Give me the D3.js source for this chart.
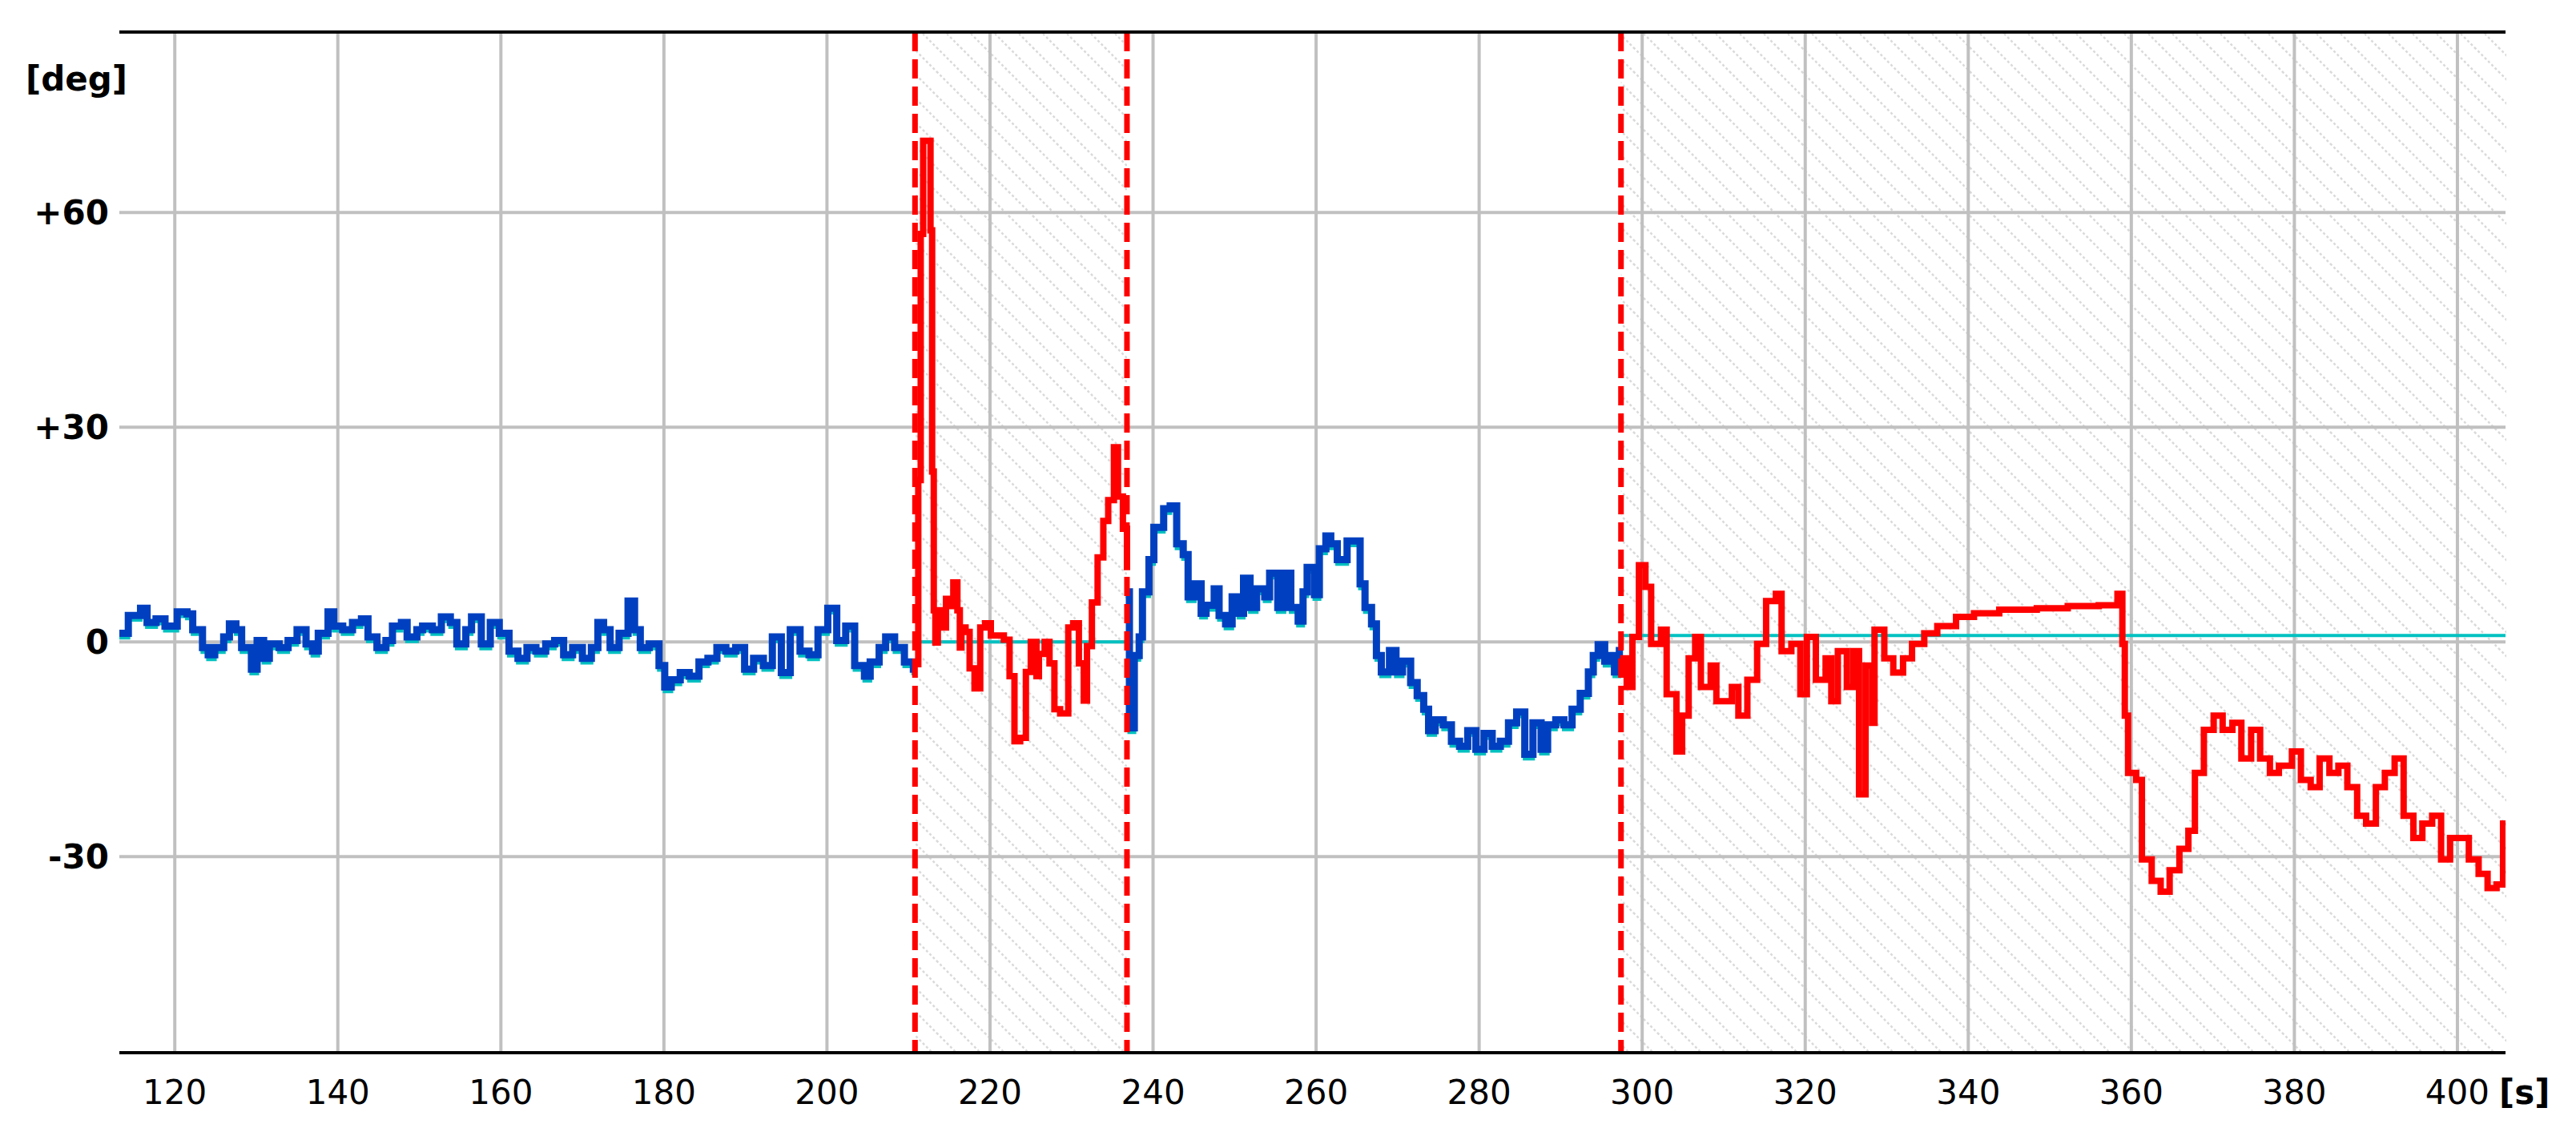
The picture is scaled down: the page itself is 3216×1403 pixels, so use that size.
<!DOCTYPE html>
<html><head><meta charset="utf-8">
<script src="https://cdn.jsdelivr.net/npm/d3@7"></script>
<style>body{margin:0;background:#fff}svg{display:block}</style>
</head><body>
<script>
// ---------- data ----------
const xTicks = [120,140,160,180,200,220,240,260,280,300,320,340,360,380,400];
const yTicks = [60,30,0,-30];
const yTickLabels = ["+60","+30","0","-30"];
const markers = [210.8, 236.8, 297.4];
const hatchRanges = [[210.8,236.8],[297.4,406]];

const blue1T = [113.2,114.3,115.8,116.6,117.7,118.8,120.3,121.5,122.2,123.4,124.1,124.9,126.0,126.7,127.5,128.2,129.4,130.1,130.9,131.6,132.8,133.9,135.0,136.1,136.9,137.6,138.8,139.5,140.6,141.8,142.9,143.7,144.8,145.9,146.7,147.8,148.5,149.7,150.4,151.6,152.7,153.8,154.6,155.7,156.4,157.6,158.7,159.8,161.0,162.1,163.2,164.3,165.5,166.6,167.7,168.8,170.0,171.1,171.9,172.6,173.4,174.5,175.6,176.4,177.1,178.2,179.4,180.1,180.9,182.0,183.1,184.3,185.4,186.5,187.6,188.8,189.9,191.0,192.2,193.3,194.4,195.5,196.7,197.8,198.9,200.1,201.2,202.3,203.4,204.6,205.3,206.4,207.2,208.3,209.5,210.6,210.8];
const blue1V = [1.2,3.7,4.7,2.7,3.2,2.2,4.2,3.9,1.7,-0.8,-1.8,-0.8,0.7,2.5,1.7,-0.8,-3.8,0.2,-2.3,-0.3,-0.8,0.2,1.7,-0.3,-1.3,1.2,4.2,2.2,1.7,2.7,3.2,0.7,-0.8,0.2,2.2,2.7,0.7,1.7,2.2,1.7,3.5,2.7,-0.3,1.7,3.5,-0.3,2.7,1.2,-1.3,-2.3,-0.8,-1.3,-0.3,0.2,-1.8,-0.8,-2.3,-0.8,2.7,1.7,-0.8,1.2,5.7,1.7,-0.8,-0.3,-3.3,-6.3,-5.3,-4.3,-4.8,-2.8,-2.3,-0.8,-1.3,-0.8,-3.8,-2.3,-3.3,0.7,-4.3,1.7,-1.3,-1.8,1.7,4.7,0.2,2.2,-3.3,-4.8,-2.8,-0.8,0.7,-0.8,-2.8,-3.8,-3.8];

const red1T = [210.8,211.2,211.5,211.8,212.7,212.9,213.1,213.3,213.6,214.1,214.6,215.0,215.5,216.0,216.3,216.5,217.0,217.5,218.1,218.8,219.4,220.1,220.7,221.7,222.4,223.0,223.7,224.4,225.0,225.7,226.0,226.7,227.3,227.9,228.6,229.6,230.2,230.9,231.5,231.9,232.5,233.2,233.9,234.5,235.2,235.7,236.3,236.8];
const red1V = [-3.1,22.6,57.0,70.0,57.5,23.8,4.4,-0.1,4.4,2.0,6.0,5.0,8.3,4.4,-0.8,2.0,1.4,-3.7,-6.5,2.0,2.6,0.9,0.9,0.3,-4.8,-13.9,-13.4,-4.2,0.0,-4.8,-1.7,0.0,-3.0,-9.4,-10.0,2.0,2.6,-3.0,-8.2,-0.6,5.5,11.8,16.9,19.8,27.2,20.3,15.8,10.0];

const blue2T = [236.8,237.1,237.7,238.3,238.7,239.5,240.1,241.3,242.1,242.9,243.7,244.3,245.1,245.9,246.5,247.5,248.1,248.9,249.7,250.5,251.1,251.9,252.7,253.7,254.3,255.3,256.1,256.9,257.8,258.4,258.9,259.8,260.4,261.2,261.8,262.6,263.8,264.8,265.4,266.0,266.8,267.4,268.0,269.0,269.8,270.6,271.6,272.4,273.2,273.8,274.6,275.6,276.6,277.6,278.6,279.6,280.6,281.6,282.6,283.6,284.6,285.6,286.6,287.6,288.4,289.4,290.4,291.4,292.4,293.4,294.0,294.6,295.4,296.0,296.6,297.2,297.4];
const blue2V = [7.0,-12.0,-1.9,0.7,7.0,11.5,16.0,18.6,19.0,13.7,12.2,6.3,8.1,4.0,5.1,7.4,3.7,2.5,6.3,4.0,8.9,4.8,7.4,6.3,9.6,4.8,9.6,4.8,2.9,7.0,10.4,6.6,13.0,14.8,13.7,11.5,14.1,14.1,8.1,4.8,2.5,-1.9,-4.2,-1.2,-4.2,-2.7,-5.7,-7.5,-9.4,-12.4,-10.9,-11.6,-13.9,-14.6,-12.4,-15.0,-12.8,-14.6,-13.9,-11.3,-9.8,-15.7,-11.3,-15.0,-11.6,-10.9,-11.6,-9.4,-7.2,-4.2,-1.9,-0.4,-2.7,-1.9,-4.2,-1.2,-1.2];

const red2T = [297.3,298.1,298.8,299.6,300.4,301.1,302.3,303.0,304.2,304.9,305.7,306.5,307.2,308.4,309.1,310.3,311.0,311.8,312.9,314.1,315.2,316.4,317.1,318.3,319.4,320.2,321.3,322.5,323.2,324.0,325.1,325.9,326.6,327.4,328.2,328.5,329.7,330.8,332.0,333.1,334.6,336.2,338.5,340.7,343.8,348.4,352.2,356.0,357.9,358.3,358.9,359.2,359.6,360.6,361.3,362.5,363.6,364.7,365.9,367.0,367.8,368.9,370.1,371.2,372.4,373.5,374.7,375.8,377.0,378.1,379.7,380.8,382.0,383.1,384.3,385.4,386.5,387.7,388.8,390.0,391.1,392.3,393.4,394.6,395.7,396.9,398.0,399.1,400.3,401.4,402.6,403.7,404.8,405.6,405.9];
const red2V = [-2.3,-6.3,0.7,10.7,7.7,-0.3,1.7,-7.3,-15.3,-10.3,-2.3,0.7,-6.3,-3.3,-8.3,-8.3,-6.3,-10.3,-5.3,-0.3,5.7,6.7,-1.3,-0.3,-7.3,0.7,-5.3,-2.3,-8.3,-1.3,-6.3,-1.3,-21.3,-3.3,-11.3,1.7,-2.3,-4.3,-2.3,-0.3,1.2,2.2,3.5,4.0,4.5,4.7,5.0,5.1,5.1,6.7,-0.3,-10.3,-18.3,-19.3,-30.4,-33.4,-34.9,-31.9,-28.9,-26.4,-18.3,-12.3,-10.3,-12.3,-11.3,-16.3,-12.3,-16.3,-18.3,-17.3,-15.3,-19.3,-20.3,-16.3,-18.3,-17.3,-20.3,-24.3,-25.4,-20.3,-18.3,-16.3,-24.3,-27.4,-25.4,-24.3,-30.4,-27.4,-27.4,-30.4,-32.4,-34.4,-33.9,-25.4,-25.4];

const cyanFlatT1 = [210.8,236.8]; const cyanFlatV1 = [0,0];
const cyanFlatT2 = [297.4,405.9]; const cyanFlatV2 = [0.9,0.9];

// ---------- layout ----------
const W=3216,H=1403, L=149, R=3128, T=40, B=1314;
const x = d3.scaleLinear().domain([113.2,405.9]).range([L,R]);
const y = d3.scaleLinear().domain([-57.4,85.2]).range([B,T]);

const svg = d3.select("body").append("svg").attr("width",W).attr("height",H);
const defs = svg.append("defs");
const pat = defs.append("pattern").attr("id","hatch").attr("patternUnits","userSpaceOnUse").attr("width",30).attr("height",30);
pat.append("path").attr("d","M-5,-5 L35,35 M-5,25 L5,35 M25,-5 L35,5").attr("stroke","#dadada").attr("stroke-width",2.5).attr("stroke-dasharray","3,3");
defs.append("clipPath").attr("id","clip").append("rect").attr("x",L).attr("y",T).attr("width",R-L).attr("height",B-T);

const g = svg.append("g");
g.selectAll(".hatch").data(hatchRanges).join("rect")
 .attr("x",d=>x(d[0])).attr("y",T).attr("width",d=>x(d[1])-x(d[0])).attr("height",B-T).attr("fill","url(#hatch)");

// grid
g.selectAll(".vg").data(xTicks).join("line").attr("x1",d=>x(d)).attr("x2",d=>x(d)).attr("y1",T).attr("y2",B).attr("stroke","#c0c0c0").attr("stroke-width",4);
g.selectAll(".hg").data(yTicks).join("line").attr("x1",L).attr("x2",R).attr("y1",d=>y(d)).attr("y2",d=>y(d)).attr("stroke","#c0c0c0").attr("stroke-width",4);

const line = d3.line().x(d=>x(d[0])).y(d=>y(d[1])).curve(d3.curveStepAfter);
const zip=(t,v)=>t.map((d,i)=>[d,v[i]]);
const plot = g.append("g").attr("clip-path","url(#clip)");
function draw(t,v,color,w){plot.append("path").datum(zip(t,v)).attr("d",line).attr("fill","none").attr("stroke",color).attr("stroke-width",w);}
draw(blue1T,blue1V.map(v=>v-0.6),"#00c0c0",5);
draw(blue2T,blue2V.map(v=>v-0.6),"#00c0c0",5);
draw(cyanFlatT1,cyanFlatV1,"#00c0c0",4);
draw(cyanFlatT2,cyanFlatV2,"#00c0c0",4);
draw(blue1T,blue1V,"#0040c0",9);
draw(blue2T,blue2V,"#0040c0",9);
draw(red1T,red1V,"#ff0000",8);
draw(red2T,red2V,"#ff0000",8);

// markers
g.selectAll(".mk").data(markers).join("line").attr("x1",d=>x(d)).attr("x2",d=>x(d)).attr("y1",T).attr("y2",B)
 .attr("stroke","#ff0000").attr("stroke-width",7).attr("stroke-dasharray","24,10");

// frame top/bottom
g.append("line").attr("x1",L).attr("x2",R).attr("y1",T).attr("y2",T).attr("stroke","#000").attr("stroke-width",4);
g.append("line").attr("x1",L).attr("x2",R).attr("y1",B).attr("y2",B).attr("stroke","#000").attr("stroke-width",4);

// labels
const font = "'DejaVu Sans', Verdana, sans-serif";
g.selectAll(".xl").data(xTicks).join("text").attr("x",d=>x(d)).attr("y",1378).attr("text-anchor","middle")
 .attr("font-family",font).attr("font-size",42).attr("fill","#000").text(d=>d);
g.selectAll(".yl").data(yTicks).join("text").attr("x",136).attr("y",d=>y(d)+15).attr("text-anchor","end")
 .attr("font-family",font).attr("font-weight","bold").attr("font-size",42).attr("fill","#000").text((d,i)=>yTickLabels[i]);
g.append("text").attr("x",32).attr("y",113).attr("font-family",font).attr("font-weight","bold").attr("font-size",42).text("[deg]");
g.append("text").attr("x",3120).attr("y",1378).attr("font-family",font).attr("font-weight","bold").attr("font-size",42).text("[s]");
</script>
</body></html>
